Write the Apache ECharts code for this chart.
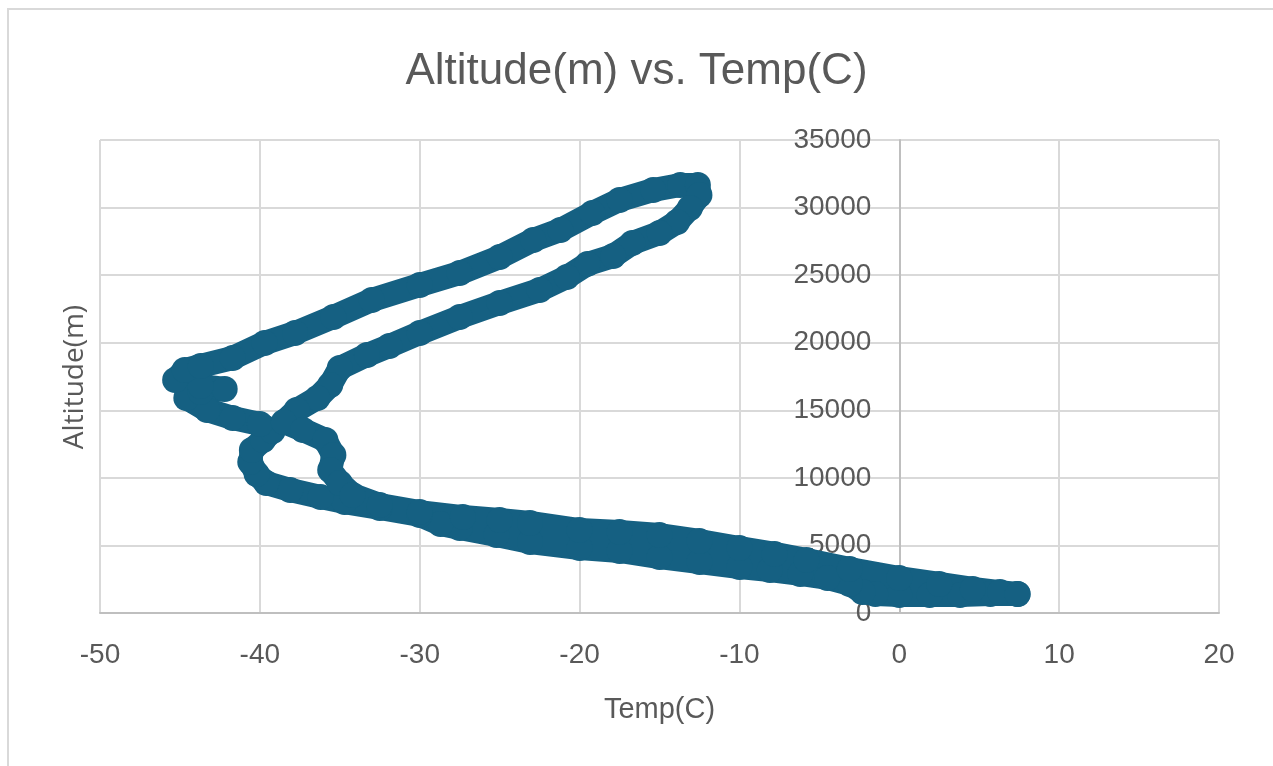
<!DOCTYPE html>
<html>
<head>
<meta charset="utf-8">
<title>Altitude(m) vs. Temp(C)</title>
<script src="https://cdn.jsdelivr.net/npm/echarts@6/dist/echarts.min.js"></script>
<style>
  html, body { margin: 0; padding: 0; background: #ffffff; }
  #chart { width: 1273px; height: 766px; }
</style>
</head>
<body>
<div id="chart"></div>
<script>
// Flight track, in recorded order: ground, lower troposphere, loop through the
// tropopause up to burst altitude, and back down to the ground.
const tempC = [
  7.4, 5.7, 3.8, 1.9, 0.0, -1.5, -2.3, -3.1, -4.5, -6.2,
  -8.1, -10.0, -12.5, -15.0, -17.5, -20.0, -23.1, -25.2, -27.5, -28.7,
  -30.0, -32.5, -34.7, -36.2, -38.1, -39.6, -40.2, -40.6, -40.5, -39.8,
  -39.2, -40.0, -41.7, -43.3, -44.6, -43.7, -42.2, -43.7, -45.3, -44.7,
  -43.7, -41.7, -39.7, -37.8, -35.4, -33.0, -30.0, -27.5, -25.0, -22.9,
  -21.2, -19.2, -17.5, -15.4, -13.7, -12.6, -12.5, -13.1, -13.9, -15.0,
  -16.7, -17.9, -19.5, -20.8, -22.5, -25.0, -27.5, -30.0, -31.9, -33.3,
  -35.0, -35.6, -36.4, -37.7, -38.5, -37.3, -35.9, -35.4, -35.6, -35.0,
  -34.2, -32.5, -30.0, -27.3, -25.0, -23.1, -20.0, -17.5, -15.0, -12.5,
  -10.0, -7.8, -5.8, -3.1, 0.0, 2.5, 4.6, 6.3, 7.4
];
const altitudeM = [
  1410, 1410, 1330, 1330, 1330, 1410, 1550, 2150, 2590, 2890,
  3180, 3400, 3770, 4140, 4590, 4810, 5250, 5770, 6290, 6590,
  7250, 7770, 8210, 8580, 9100, 9620, 10290, 11170, 12060, 12800,
  13470, 13990, 14430, 15020, 15910, 16350, 16580, 16800, 17240, 17980,
  18280, 18870, 19980, 20720, 21900, 23160, 24270, 25160, 26340, 27600,
  28340, 29600, 30560, 31300, 31670, 31670, 30930, 29970, 28930, 28120,
  27380, 26420, 25830, 24860, 23900, 22940, 21900, 20720, 19760, 19090,
  18130, 16870, 15910, 15020, 14130, 13540, 12800, 11690, 10580, 9620,
  8730, 7990, 7470, 7100, 6880, 6660, 6140, 5990, 5770, 5330,
  4810, 4370, 3920, 3260, 2590, 2150, 1780, 1550, 1410
];

// Axis ranges and tick spacing
const tempRange = [-50, 20];
const tempStep = 10;
const altRange = [0, 35000];
const altStep = 5000;

const chartTitle = 'Altitude(m) vs. Temp(C)';
const xName = 'Temp(C)';
const yName = 'Altitude(m)';

const track = tempC.map((t, i) => [t, altitudeM[i]]);

const ink = '#156082';
const textGrey = '#595959';
const gridGrey = '#d9d9d9';
const axisGrey = '#bfbfbf';

const el = document.getElementById('chart');
const chart = echarts.init(el, null, { renderer: 'canvas' });

// Plot box; the value axis is pushed across so that it stands at Temp = 0
const gridBox = { left: 100, right: 54, top: 140, bottom: 153 };
const plotWidth = chart.getWidth() - gridBox.left - gridBox.right;
const zeroShift = -plotWidth * (0 - tempRange[0]) / (tempRange[1] - tempRange[0]);

chart.setOption({
  animation: false,
  backgroundColor: '#ffffff',
  title: {
    text: chartTitle,
    left: 'center',
    top: 45,
    textStyle: {
      fontFamily: 'Liberation Sans',
      fontSize: 44,
      fontWeight: 'normal',
      color: textGrey
    }
  },
  grid: Object.assign({ containLabel: false, outerBoundsMode: 'none' }, gridBox),
  xAxis: {
    type: 'value',
    min: tempRange[0],
    max: tempRange[1],
    interval: tempStep,
    name: xName,
    nameLocation: 'middle',
    nameGap: 82,
    nameTextStyle: { fontFamily: 'Liberation Sans', fontSize: 29, color: textGrey },
    axisLine: { show: true, onZero: false, lineStyle: { color: axisGrey, width: 2 } },
    axisTick: { show: false },
    axisLabel: {
      fontFamily: 'Liberation Sans', fontSize: 28, color: textGrey, margin: 28,
      formatter: v => String(v)
    },
    splitLine: { show: true, lineStyle: { color: gridGrey, width: 2 } }
  },
  yAxis: {
    type: 'value',
    min: altRange[0],
    max: altRange[1],
    interval: altStep,
    position: 'left',
    offset: zeroShift,
    axisLine: { show: true, onZero: false, lineStyle: { color: axisGrey, width: 2 } },
    axisTick: { show: false },
    axisLabel: {
      fontFamily: 'Liberation Sans', fontSize: 28, color: textGrey, margin: 28,
      formatter: v => String(v)
    },
    splitLine: { show: true, lineStyle: { color: gridGrey, width: 2 } }
  },
  graphic: [
    {
      type: 'rect',
      shape: { x: 8, y: 9, width: 1300, height: 800 },
      style: { fill: 'none', stroke: gridGrey, lineWidth: 2 },
      silent: true,
      z: -10
    },
    {
      type: 'text',
      x: 75,
      y: 377,
      rotation: Math.PI / 2,
      style: {
        text: yName,
        fontFamily: 'Open Sans',
        fontSize: 28,
        fill: textGrey,
        textAlign: 'center',
        textVerticalAlign: 'middle'
      },
      silent: true
    }
  ],
  series: [
    {
      name: yName,
      type: 'line',
      data: track,
      smooth: false,
      showSymbol: true,
      showAllSymbol: true,
      symbol: 'circle',
      symbolSize: 26,
      itemStyle: { color: ink, borderWidth: 0 },
      lineStyle: { color: ink, width: 24, cap: 'round', join: 'round' },
      emphasis: { disabled: true },
      z: 3
    }
  ]
});
</script>
</body>
</html>
